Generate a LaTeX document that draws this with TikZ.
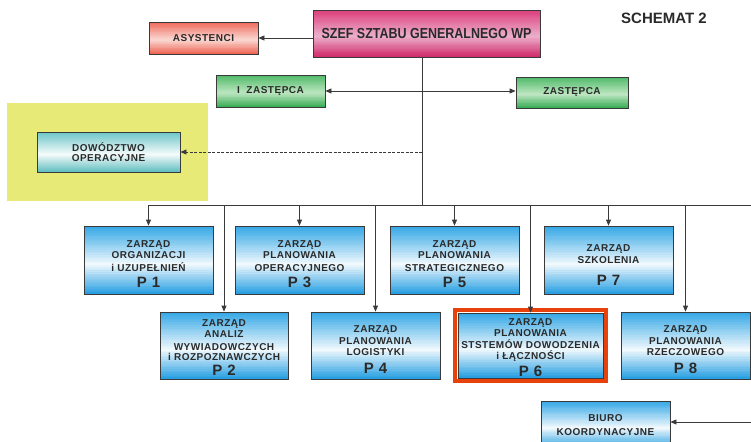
\documentclass[tikz,border=0pt]{standalone}
\usepackage{fontspec}
\setmainfont{Liberation Sans}
\newfontfamily\boxfont{Liberation Sans}[LetterSpace=5]
\usetikzlibrary{arrows.meta,calc}
\definecolor{txt}{HTML}{2A2A2A}
\definecolor{edge}{HTML}{3A3A3A}
\definecolor{bluetop}{HTML}{36A8E6}
\definecolor{bluemid}{HTML}{F2F9FD}
\definecolor{bluebot}{HTML}{2AA0E2}
\definecolor{pinktop}{HTML}{DC3F7C}
\definecolor{pinkmid}{HTML}{ECB0CC}
\definecolor{pinkbot}{HTML}{D02E6C}
\definecolor{saltop}{HTML}{EF6A5C}
\definecolor{salmid}{HTML}{FADAD4}
\definecolor{salbot}{HTML}{EE6656}
\definecolor{greentop}{HTML}{4FBA68}
\definecolor{greenmid}{HTML}{BEE6C2}
\definecolor{greenbot}{HTML}{3CAE58}
\definecolor{tealtop}{HTML}{6CC6C8}
\definecolor{tealmid}{HTML}{F6FBFB}
\definecolor{tealbot}{HTML}{66C0C2}
\definecolor{yel}{HTML}{E8EA78}
\definecolor{redframe}{HTML}{E8420C}
\tikzset{
  grad/.style n args={3}{path picture={
    \foreach \i in {0,...,39}{
      \pgfmathtruncatemacro\pp{\i<22 ? 100*\i/22 : 100*(39-\i)/17}
      \ifnum\i<22 \colorlet{gc}{#2!\pp!#1}\else\colorlet{gc}{#2!\pp!#3}\fi
      \fill[gc] ($(path picture bounding box.north west)!{\i/40}!(path picture bounding box.south west)$)
        rectangle ($(path picture bounding box.north east)!{(\i+1.4)/40}!(path picture bounding box.south east)$);
    }}},
  box/.style={draw=edge, line width=0.8pt, inner sep=0pt, align=center, text=txt,
    font=\boxfont\bfseries\fontsize{10}{11}\selectfont},
  bluebox/.style={box, minimum width=129pt, minimum height=68pt, grad={bluetop}{bluemid}{bluebot}},
  pinkbox/.style={box, grad={pinktop}{pinkmid}{pinkbot}},
  salbox/.style={box, grad={saltop}{salmid}{salbot}},
  greenbox/.style={box, grad={greentop}{greenmid}{greenbot}},
  tealbox/.style={box, grad={tealtop}{tealmid}{tealbot}},
  conn/.style={draw=edge, line width=0.8pt},
  arr/.style={conn, -{Triangle[length=6pt,width=5pt]}},
  darr/.style={conn, {Triangle[length=6pt,width=5pt]}-{Triangle[length=6pt,width=5pt]}},
}
\newcommand{\pline}[2][5pt]{\\[#1]{\fontsize{15}{15}\selectfont #2}}
\newcommand{\up}[1]{\rule{0pt}{#1}}
\begin{document}
\begin{tikzpicture}[x=1pt,y=-1pt]
\useasboundingbox (0,0) rectangle (751,441);
\clip (0,0) rectangle (751,441);
\fill[white] (0,0) rectangle (751,441);
% yellow area
\fill[yel] (7,103) rectangle (208,201);

\node[pinkbox, minimum width=227pt, minimum height=47pt, font=\bfseries\fontsize{14.5}{15}\selectfont]
  (szef) at (426.5,33.5) {\scalebox{0.86}[1]{SZEF SZTABU GENERALNEGO WP}};
\node[salbox, minimum width=109pt, minimum height=32pt] (asys) at (203.5,38) {ASYSTENCI};
\node[greenbox, minimum width=109pt, minimum height=32pt] (iz) at (270.5,91) {I\ \ ZASTĘPCA};
\node[greenbox, minimum width=112pt, minimum height=31pt] (zas) at (572,92.5) {ZASTĘPCA};
\node[tealbox, minimum width=143pt, minimum height=40pt] (dow) at (108.5,152) {\up{9pt}DOWÓDZTWO\\[-1pt]OPERACYJNE};

\node[font=\bfseries\fontsize{15}{15}\selectfont, text=txt] (sch) at (664,18) {SCHEMAT 2};

% first row
\node[bluebox] (p1) at (148.5,260) {\up{15pt}ZARZĄD\\ORGANIZACJI\\[2.5pt]i UZUPEŁNIEŃ\pline{P 1}};
\node[bluebox] (p3) at (299.5,260) {\up{15pt}ZARZĄD\\PLANOWANIA\\[2.5pt]OPERACYJNEGO\pline{P 3}};
\node[bluebox] (p5) at (454.5,260) {\up{15pt}ZARZĄD\\PLANOWANIA\\[2.5pt]STRATEGICZNEGO\pline{P 5}};
\node[bluebox] (p7) at (608.5,260) {\up{17pt}ZARZĄD\\[0.5pt]SZKOLENIA\pline[11.5pt]{P 7}};
% second row
\node[bluebox, minimum width=128pt, minimum height=67pt] (p2) at (224,345.5) {\up{11pt}ZARZĄD\\ANALIZ\\[1.3pt]WYWIADOWCZYCH\\[-0.3pt]i ROZPOZNAWCZYCH\pline[3.3pt]{P 2}};
\node[bluebox, minimum height=67pt] (p4) at (375.5,345.5) {\up{15pt}ZARZĄD\\[0.6pt]PLANOWANIA\\[0.6pt]LOGISTYKI\pline[6.3pt]{P 4}};
\node[bluebox, minimum width=145pt, minimum height=65pt] (p6) at (530.5,345.5) {\up{11pt}ZARZĄD\\PLANOWANIA\\[1.3pt]STSTEMÓW DOWODZENIA\\[-0.3pt]i ŁĄCZNOŚCI\pline[3.3pt]{P 6}};
\draw[redframe, line width=3.5pt] ($(p6.north west)+(-2.6,-2.6)$) rectangle ($(p6.south east)+(2.6,2.6)$);
\node[bluebox, minimum height=67pt] (p8) at (685.5,345.5) {\up{15pt}ZARZĄD\\[0.6pt]PLANOWANIA\\[0.6pt]RZECZOWEGO\pline[6.3pt]{P 8}};
\node[bluebox, minimum height=48pt] (biuro) at (605.5,425) {BIURO\\[2.3pt]KOORDYNACYJNE};

% connectors
\draw[arr] (szef.west |- asys.east) -- (asys.east);
\draw[darr] (iz.east) -- (iz.east -| zas.west);
\coordinate (bus) at (422,205);
\coordinate (busend) at (751,205);
\coordinate (p1top) at (p1.north |- bus);
\draw[conn] (szef.south -| bus) -- (bus);
\draw[conn] (p1top) -- (busend);
\draw[arr, dash pattern=on 3pt off 1.5pt] (bus |- dow.east) -- (dow.east);
\foreach \n in {p1,p3,p5,p7,p2,p4,p6,p8}{
  \draw[arr] (\n.north |- bus) -- (\n.north);
}
\coordinate (rin) at (751,422);
\draw[arr] (rin) -- (rin -| biuro.east);
\end{tikzpicture}
\end{document}
